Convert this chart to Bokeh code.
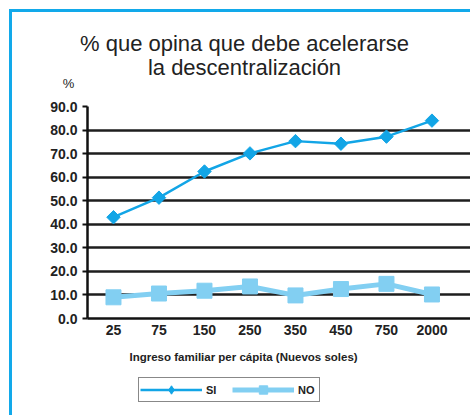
from bokeh.plotting import figure
from bokeh.models import (Range1d, FixedTicker, NumeralTickFormatter, Title, Label,
                          Legend, LegendItem)
from bokeh.layouts import column
from bokeh.embed import file_html
from bokeh.resources import INLINE
import math

categories = ["25", "75", "150", "250", "350", "450", "750", "2000"]
si_values = [43.0, 51.3, 62.4, 70.1, 75.3, 74.2, 77.2, 84.0]
no_values = [9.0, 10.6, 11.8, 13.6, 9.8, 12.5, 14.7, 10.2]
y_ticks = [0, 10, 20, 30, 40, 50, 60, 70, 80, 90]

title_line1 = "% que opina que debe acelerarse"
title_line2 = "la descentralización"
x_title = "Ingreso familiar per cápita (Nuevos soles)"
y_unit = "%"
series_names = ["SI", "NO"]

SI_COLOR = "#12a5e6"
NO_COLOR = "#82cff2"
BORDER = "#12a9ea"
TXT = "#222222"
FONT = "Liberation Sans"

W = 458
H_HEAD, H_MAIN, H_LEG = 80, 285, 38

x_idx = list(range(len(categories)))


def bare(w, h, xr, yr):
    fig = figure(width=w, height=h, output_backend="svg", toolbar_location=None,
                 x_range=xr, y_range=yr, x_axis_location=None, y_axis_location=None,
                 min_border=0, min_border_left=0, min_border_right=0,
                 min_border_top=0, min_border_bottom=0)
    fig.grid.grid_line_color = None
    fig.outline_line_color = None
    fig.frame_align = False
    return fig


# ---- header with the two-line title and the unit label
head = bare(W, H_HEAD, Range1d(0, W), Range1d(H_HEAD, 0))
for txt, yy in ((title_line1, 31), (title_line2, 55)):
    head.add_layout(Label(x=232, y=yy, text=txt, text_align="center",
                          text_baseline="middle", text_font=FONT,
                          text_font_size="22px", text_color=TXT))
head.add_layout(Label(x=56, y=71, text=y_unit, text_align="center",
                      text_baseline="middle", text_font=FONT,
                      text_font_size="13px", text_color=TXT))

# ---- main chart
p = figure(width=W, height=H_MAIN, output_backend="svg", toolbar_location=None,
           x_range=Range1d(-0.571, 7.847), y_range=Range1d(0, 90),
           min_border_left=75, min_border_right=0, min_border_top=14,
           min_border_bottom=59)
p.outline_line_color = None
p.frame_align = False

p.xaxis.ticker = FixedTicker(ticks=x_idx)
p.xaxis.major_label_overrides = {i: c for i, c in zip(x_idx, categories)}
p.xaxis.major_tick_out = 0
p.xaxis.major_tick_in = 0
p.xaxis.minor_tick_line_color = None
p.xaxis.axis_line_width = 2.5
p.xaxis.axis_line_color = "#111111"
p.xaxis.major_label_standoff = 6

p.yaxis.ticker = FixedTicker(ticks=y_ticks)
p.yaxis.formatter = NumeralTickFormatter(format="0.0")
p.yaxis.major_tick_out = 5
p.yaxis.major_tick_in = 0
p.yaxis.major_tick_line_width = 2
p.yaxis.major_tick_line_color = "#111111"
p.yaxis.minor_tick_line_color = None
p.yaxis.axis_line_width = 2.5
p.yaxis.axis_line_color = "#111111"
p.yaxis.major_label_standoff = 5

for ax in (p.xaxis, p.yaxis):
    ax.major_label_text_font = FONT
    ax.major_label_text_font_size = "14px"
    ax.major_label_text_font_style = "bold"
    ax.major_label_text_color = TXT

p.xgrid.grid_line_color = None
p.ygrid.ticker = FixedTicker(ticks=y_ticks[1:])
p.ygrid.grid_line_color = "#1e1e1e"
p.ygrid.grid_line_width = 2.5

xt = Title(text=x_title, align="left", offset=42, text_font=FONT,
           text_font_size="11.5px", text_font_style="bold", text_color=TXT, standoff=22)
p.add_layout(xt, "below")

p.line(x_idx, no_values, line_color=NO_COLOR, line_width=5)
p.scatter(x_idx, no_values, marker="square", size=15,
          fill_color=NO_COLOR, line_color=NO_COLOR)
p.line(x_idx, si_values, line_color=SI_COLOR, line_width=2.5)
p.scatter(x_idx, si_values, marker="square", angle=math.pi / 4, size=9.5,
          fill_color=SI_COLOR, line_color=SI_COLOR)

# ---- legend strip (its glyph renderers lie outside the visible ranges)
leg = bare(W, H_LEG, Range1d(100, 101), Range1d(1000, 1001))
l_si = leg.line(x_idx, si_values, line_color=SI_COLOR, line_width=2.5)
m_si = leg.scatter(x_idx, si_values, marker="diamond", size=13,
                   fill_color=SI_COLOR, line_color=SI_COLOR)
l_no = leg.line(x_idx, no_values, line_color=NO_COLOR, line_width=5)
m_no = leg.scatter(x_idx, no_values, marker="square", size=15,
                   fill_color=NO_COLOR, line_color=NO_COLOR)
legend = Legend(items=[LegendItem(label=series_names[0], renderers=[l_si, m_si]),
                       LegendItem(label=series_names[1], renderers=[l_no, m_no])],
                orientation="horizontal", location=(126, 13),
                border_line_color="#111111", border_line_width=1.5,
                label_text_font=FONT, label_text_font_size="11px",
                label_text_font_style="bold", label_text_color=TXT,
                glyph_width=62, glyph_height=21, padding=1, spacing=6,
                label_standoff=4, margin=0, background_fill_alpha=1)
leg.add_layout(legend, "center")

col = column(head, p, leg, spacing=0)
col.styles = {"margin-left": "9px", "margin-top": "9px",
              "border-left": f"3px solid {BORDER}", "border-top": f"3px solid {BORDER}"}

open("out.html", "w").write(file_html(col, INLINE))
